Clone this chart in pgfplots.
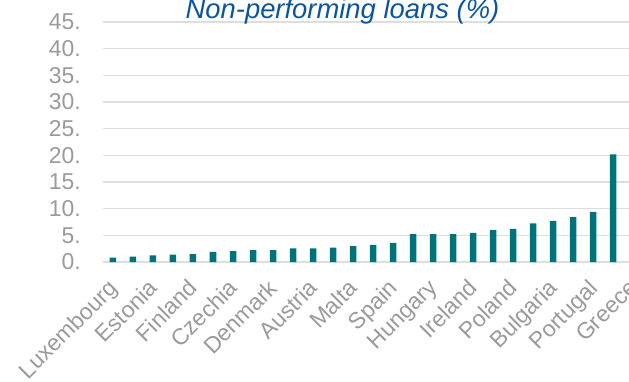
\documentclass[border=0pt]{standalone}
\usepackage{pgfplots}
\pgfplotsset{compat=1.18}
\usepackage{fontspec}
\setmainfont{Liberation Sans}
\definecolor{barteal}{HTML}{00737A}
\definecolor{tickgray}{HTML}{9A9A9A}
\definecolor{gridgray}{HTML}{DEDEDE}
\definecolor{titleblue}{HTML}{0B559F}
\begin{document}
\begin{tikzpicture}
\begin{axis}[
  at={(0,0)}, anchor=south west,
  scale only axis,
  width=540bp, height=240bp,
  xmin=-0.5, xmax=26.5,
  ymin=0, ymax=45,
  ybar, bar width=6.5bp,
  axis x line*=bottom, axis y line*=left,
  y axis line style={draw=none},
  x axis line style={draw=gridgray, line width=2bp},
  ymajorgrids,
  major grid style={draw=gridgray, line width=1.3bp},
  major tick length=0pt,
  ytick={0,5,...,45},
  yticklabels={0.,5.,10.,15.,20.,25.,30.,35.,40.,45.},
  yticklabel style={font=\fontsize{23}{23}\selectfont, text=tickgray, anchor=east, inner sep=0pt, xshift=-22bp},
  xtick={0,2,...,26},
  xticklabels={Luxembourg,Estonia,Finland,Czechia,Denmark,Austria,Malta,Spain,Hungary,Ireland,Poland,Bulgaria,Portugal,Greece},
  xticklabel style={font=\fontsize{23}{23}\selectfont, text=tickgray, rotate=45, anchor=north east, inner sep=0pt, yshift=-7bp, xshift=-15.5bp},
  title={\itshape Non-performing loans (\%)},
  title style={font=\fontsize{27.5}{27.5}\selectfont, text=titleblue, at={(rel axis cs:0.4435,1)}, anchor=base, yshift=-2bp, inner sep=0pt},
]
\addplot[fill=barteal, draw=none] coordinates {
(0,0.8) (1,1.0) (2,1.25) (3,1.4) (4,1.5) (5,1.9) (6,2.05) (7,2.25) (8,2.25)
(9,2.55) (10,2.55) (11,2.7) (12,3.0) (13,3.2) (14,3.6) (15,5.25) (16,5.25)
(17,5.25) (18,5.45) (19,6.0) (20,6.2) (21,7.25) (22,7.7) (23,8.4) (24,9.4) (25,20.2)
};
\end{axis}
\pgfresetboundingbox
\useasboundingbox (-103bp,-120bp) rectangle (526bp,262bp);
\end{tikzpicture}
\end{document}
